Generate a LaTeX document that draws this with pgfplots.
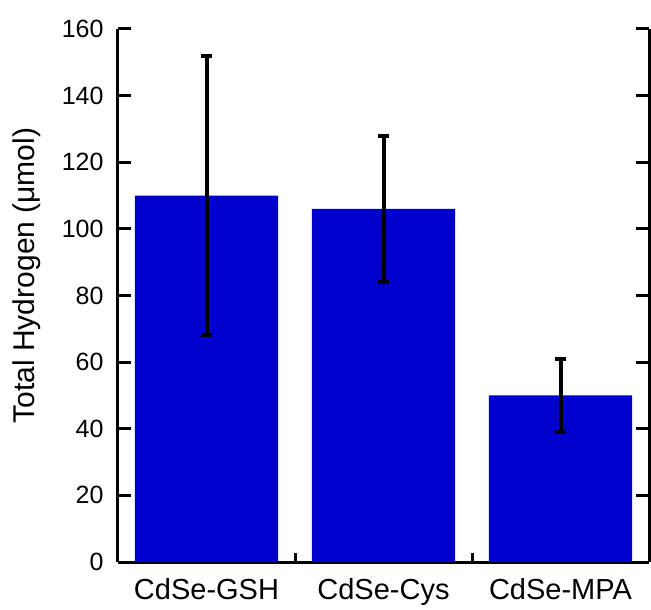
\documentclass[border=0pt]{standalone}
\usepackage{fontspec}
\setmainfont{Liberation Sans}
\usepackage{pgfplots}
\pgfplotsset{compat=1.18}
\definecolor{barblue}{RGB}{0,0,204}
\begin{document}
\begin{tikzpicture}
\begin{axis}[
  name=ax,
  scale only axis,
  width=531pt, height=533pt,
  xmin=-0.5, xmax=2.5,
  ymin=0, ymax=160,
  axis x line*=bottom,
  axis y line*=box,
  axis line style={line width=3pt},
  ytick={0,20,...,160},
  ytick pos=both,
  ytick align=inside,
  major tick length=13pt,
  every tick/.style={line width=3pt, black},
  xtick={0.5,1.5},
  xticklabels={},
  xtick style={/pgfplots/major tick length=9pt},
  extra x ticks={0,1,2},
  extra x tick labels={CdSe-GSH,CdSe-Cys,CdSe-MPA},
  extra x tick style={tick style={draw=none}, xticklabel style={yshift=-13pt, font=\fontsize{29}{34}\selectfont}},
  xtick pos=bottom,
  xtick align=inside,
  tick label style={font=\fontsize{25}{30}\selectfont},
  /pgf/number format/assume math mode=true,
  yticklabel style={xshift=-11pt},
  ylabel={Total Hydrogen (μmol)},
  ylabel style={font=\fontsize{30}{36}\selectfont, yshift=14pt, xshift=20pt},
  clip=false,
]
\coordinate (bl) at (rel axis cs:0,0);
\coordinate (tr) at (rel axis cs:1,1);
\addplot[ybar, bar width=0.81, fill=barblue, draw=none, bar shift=0pt,
  error bars/.cd, y dir=both, y explicit,
  error bar style={line width=4pt, black},
  error mark options={rotate=90, mark size=5.3pt, line width=4pt, black}]
  coordinates {
  (0,110) +- (0,42)
  (1,106) +- (0,22)
  (2,50) +- (0,11)
  };
\end{axis}
\pgfresetboundingbox
\path ([shift={(-118pt,-47pt)}]bl) rectangle ([shift={(2pt,29pt)}]tr);
\end{tikzpicture}
\end{document}
